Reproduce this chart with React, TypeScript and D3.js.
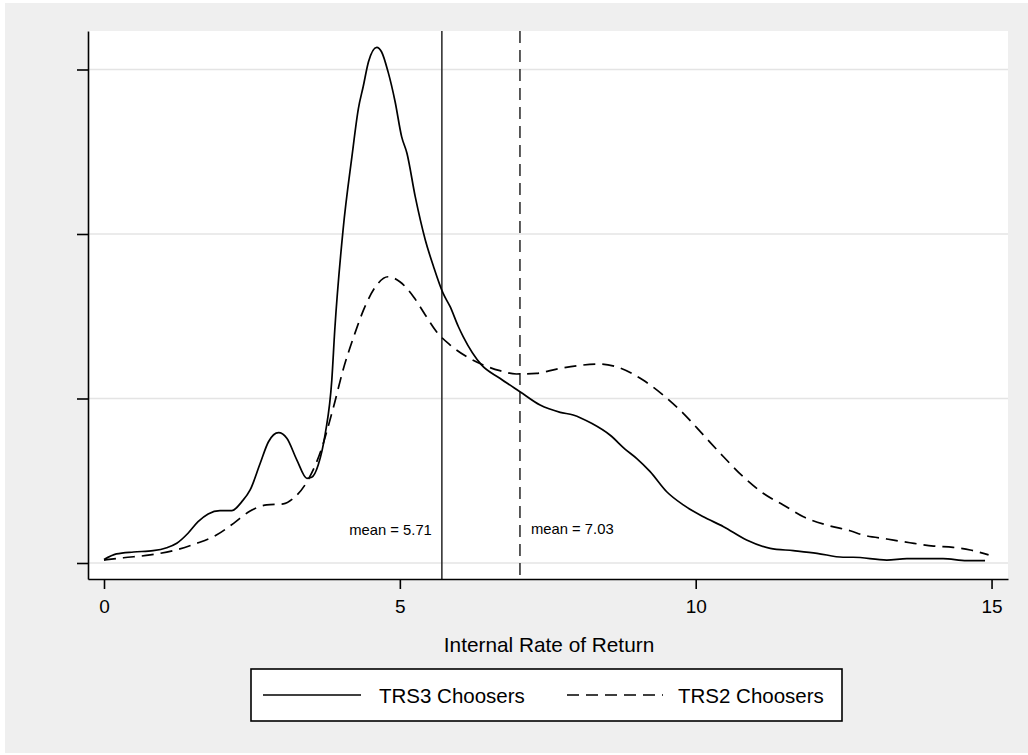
import React, { useRef, useEffect } from "react";
import * as d3 from "d3";

// kernel density estimates (x = IRR, y = density)
const trs3X = [0, 0.21, 0.5, 0.83, 1.06, 1.23, 1.42, 1.59, 1.76, 1.96, 2.16, 2.33, 2.47, 2.64, 2.78, 2.95, 3.09, 3.26, 3.43, 3.51, 3.62, 3.74, 3.85, 3.9, 4.04, 4.19, 4.3, 4.38, 4.47, 4.61, 4.69, 4.8, 4.92, 5.03, 5.12, 5.26, 5.43, 5.57, 5.73, 5.85, 5.99, 6.07, 6.38, 6.69, 7.03, 7.37, 7.71, 7.93, 8.24, 8.55, 8.81, 9.0, 9.23, 9.51, 9.79, 10.13, 10.47, 10.86, 11.26, 11.65, 12.05, 12.49, 12.66, 13.23, 13.57, 14.18, 14.58, 14.89];
const trs3Dens = [0.0021, 0.0055, 0.0067, 0.0075, 0.0093, 0.012, 0.0181, 0.0251, 0.0298, 0.0318, 0.0318, 0.0373, 0.0444, 0.0606, 0.0737, 0.0792, 0.0758, 0.0626, 0.0515, 0.0521, 0.0596, 0.0788, 0.1112, 0.1416, 0.2024, 0.247, 0.2764, 0.2895, 0.3047, 0.3135, 0.3108, 0.2987, 0.2804, 0.2592, 0.2491, 0.2227, 0.1964, 0.1801, 0.164, 0.1558, 0.1436, 0.1376, 0.1204, 0.1123, 0.1041, 0.096, 0.0916, 0.09, 0.0849, 0.0778, 0.0691, 0.0636, 0.0555, 0.0433, 0.0353, 0.0281, 0.0221, 0.014, 0.0089, 0.0075, 0.0059, 0.0035, 0.0035, 0.0018, 0.0026, 0.0026, 0.0014, 0.0014];

const trs2X = [0, 0.33, 0.78, 1.17, 1.57, 1.9, 2.19, 2.47, 2.75, 3.03, 3.2, 3.43, 3.65, 3.88, 4.04, 4.24, 4.41, 4.61, 4.8, 5.0, 5.23, 5.43, 5.62, 5.85, 6.13, 6.41, 6.69, 6.97, 7.31, 7.65, 7.99, 8.37, 8.66, 9.11, 9.45, 9.79, 10.13, 10.47, 10.8, 11.14, 11.48, 11.82, 12.21, 12.61, 12.83, 13.23, 13.62, 14.02, 14.35, 14.64, 14.95];
const trs2Dens = [0.0018, 0.0032, 0.0049, 0.0075, 0.012, 0.017, 0.0241, 0.0316, 0.0353, 0.0359, 0.0393, 0.0494, 0.0667, 0.095, 0.1173, 0.1396, 0.1558, 0.169, 0.174, 0.171, 0.1619, 0.1508, 0.1406, 0.1325, 0.1254, 0.1204, 0.1169, 0.1149, 0.1153, 0.1179, 0.1199, 0.121, 0.1193, 0.1112, 0.1021, 0.091, 0.0778, 0.0646, 0.0525, 0.0424, 0.0353, 0.0281, 0.0231, 0.0196, 0.017, 0.0146, 0.0123, 0.0103, 0.0095, 0.0079, 0.0049];

const xTicks = [0, 5, 10, 15];
const yTicks = [0, 0.1, 0.2, 0.3];
const meanValues = [5.71, 7.03];
const meanLabels = ["mean = 5.71", "mean = 7.03"];
const seriesNames = ["TRS3 Choosers", "TRS2 Choosers"];

const FONT = "'Liberation Sans', Arial, Helvetica, sans-serif";
const DASH = "12,7";

export default function App() {
  const xAxisRef = useRef<SVGGElement>(null);
  const yAxisRef = useRef<SVGGElement>(null);

  const x = d3.scaleLinear().domain([-0.2704, 15.278]).range([88, 1008]);
  const y = d3.scaleLinear().domain([-0.00973, 0.3234]).range([579, 31]);

  const line = d3
    .line<[number, number]>()
    .x(d => x(d[0]))
    .y(d => y(d[1]))
    .curve(d3.curveMonotoneX);

  const trs3 = trs3X.map((v, i) => [v, trs3Dens[i]] as [number, number]);
  const trs2 = trs2X.map((v, i) => [v, trs2Dens[i]] as [number, number]);

  useEffect(() => {
    const xAxis = d3.axisBottom(x).tickValues(xTicks).tickSize(10).tickSizeOuter(0).tickPadding(11);
    const gx = d3.select(xAxisRef.current!);
    gx.call(xAxis);
    gx.select(".domain").attr("stroke", "#000").attr("stroke-width", 1.6);
    gx.selectAll(".tick line").attr("stroke", "#000").attr("stroke-width", 1.6);
    gx.selectAll(".tick text")
      .attr("fill", "#000")
      .style("font-family", FONT)
      .style("font-size", "19px");

    const yAxis = d3.axisLeft(y).tickValues(yTicks).tickSize(11).tickSizeOuter(0).tickFormat(() => "");
    const gy = d3.select(yAxisRef.current!);
    gy.call(yAxis);
    gy.select(".domain").attr("stroke", "#000").attr("stroke-width", 1.6);
    gy.selectAll(".tick line").attr("stroke", "#000").attr("stroke-width", 1.6);
  }, []);

  const [x0, x1] = x.range();
  const [yBot, yTop] = y.range();

  return (
    <svg width={1028} height={755} style={{ position: "absolute", left: 0, top: 0, background: "#fff" }}>
      <rect x={5} y={3} width={1023} height={750} fill="#efefef" />
      <rect x={x0} y={yTop} width={x1 - x0} height={yBot - yTop} fill="#fff" />

      {/* gridlines */}
      {yTicks.map(t => (
        <line key={t} x1={x0} x2={x1} y1={y(t)} y2={y(t)} stroke="#e4e4e4" strokeWidth={1.5} />
      ))}

      {/* mean lines */}
      {meanValues.map((m, i) => (
        <line
          key={m}
          x1={x(m)}
          x2={x(m)}
          y1={yTop}
          y2={yBot}
          stroke="#333"
          strokeWidth={1.6}
          strokeDasharray={i === 1 ? DASH : undefined}
        />
      ))}
      <text x={x(meanValues[0]) - 10} y={530} textAnchor="end" dominantBaseline="central"
        style={{ fontFamily: FONT, fontSize: "14.8px" }}>{meanLabels[0]}</text>
      <text x={x(meanValues[1]) + 11} y={529} textAnchor="start" dominantBaseline="central"
        style={{ fontFamily: FONT, fontSize: "14.8px" }}>{meanLabels[1]}</text>

      {/* density curves */}
      <path d={line(trs3) || ""} fill="none" stroke="#000" strokeWidth={1.7} />
      <path d={line(trs2) || ""} fill="none" stroke="#000" strokeWidth={1.7} strokeDasharray={DASH} />

      <g ref={xAxisRef} transform={`translate(0,${yBot})`} />
      <g ref={yAxisRef} transform={`translate(${x0},0)`} />

      <text x={549} y={644} textAnchor="middle" dominantBaseline="central"
        style={{ fontFamily: FONT, fontSize: "20.8px" }}>Internal Rate of Return</text>

      {/* legend */}
      <rect x={251} y={669} width={591} height={52} fill="#fff" stroke="#000" strokeWidth={1.6} />
      <line x1={263} x2={361} y1={695} y2={695} stroke="#000" strokeWidth={1.7} />
      <text x={379} y={695} dominantBaseline="central" style={{ fontFamily: FONT, fontSize: "20.5px" }}>{seriesNames[0]}</text>
      <line x1={567} x2={663} y1={695} y2={695} stroke="#000" strokeWidth={1.7} strokeDasharray={DASH} />
      <text x={678} y={695} dominantBaseline="central" style={{ fontFamily: FONT, fontSize: "20.5px" }}>{seriesNames[1]}</text>
    </svg>
  );
}
